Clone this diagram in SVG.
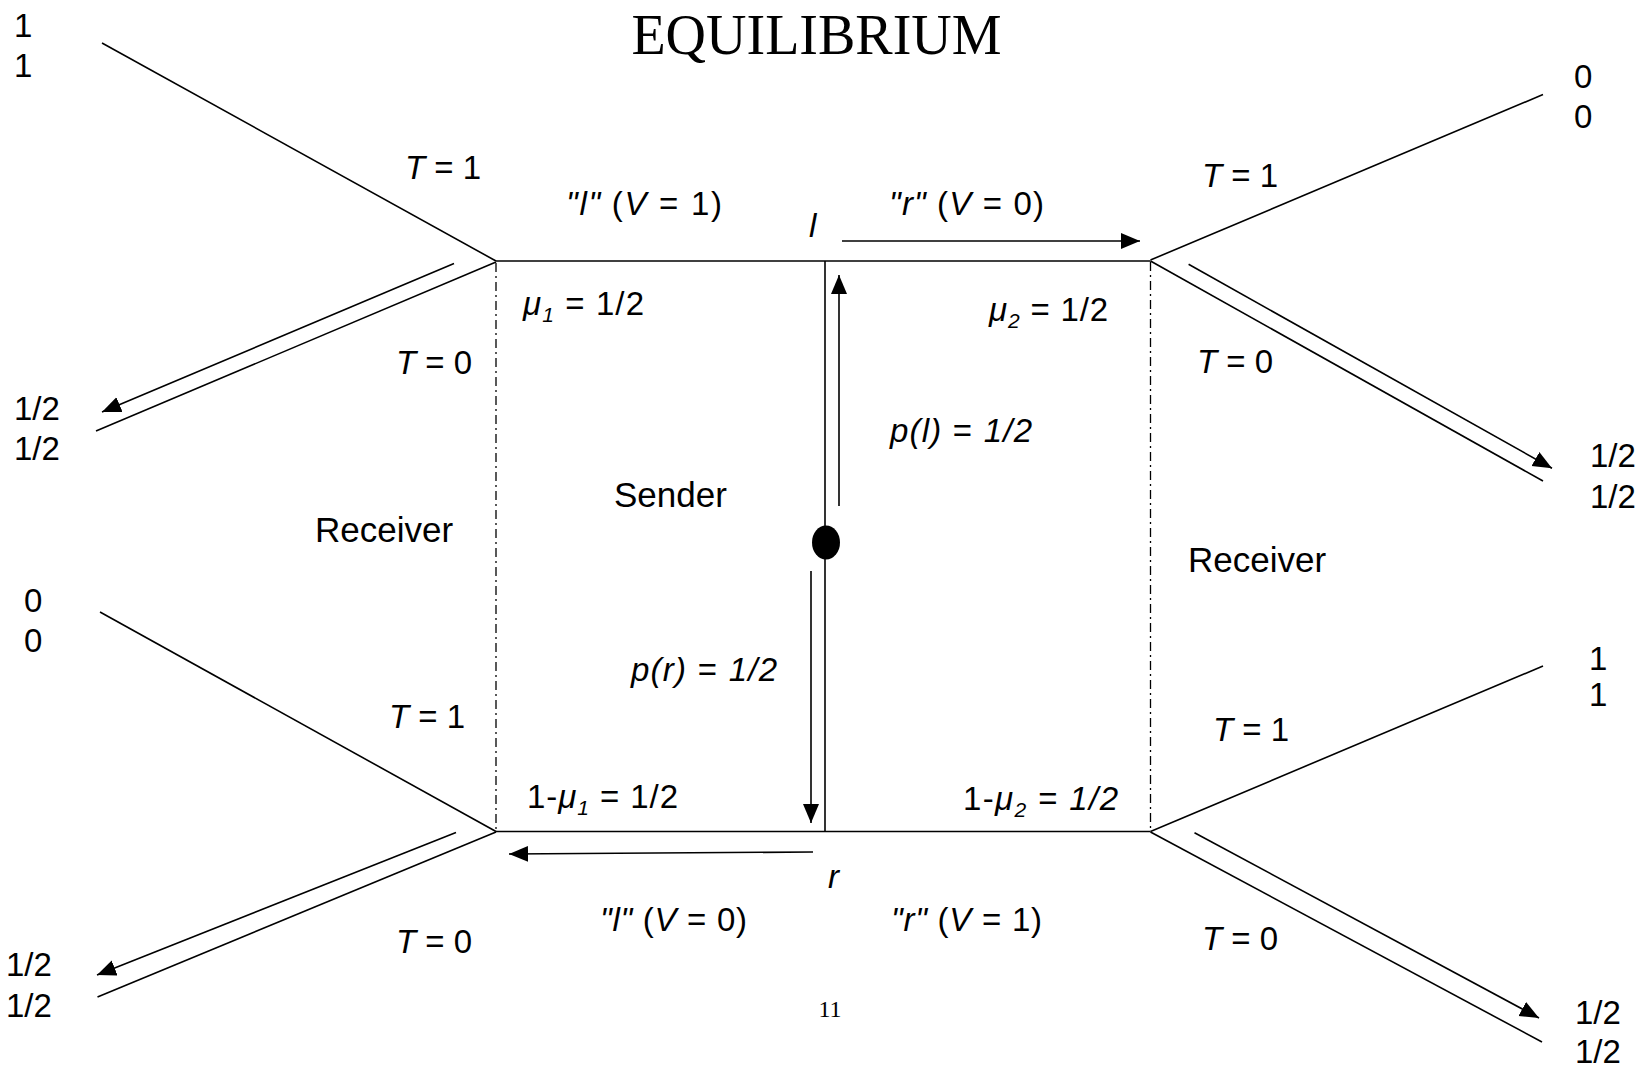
<svg xmlns="http://www.w3.org/2000/svg" width="1642" height="1069" viewBox="0 0 1642 1069">
<style>
text{font-family:"Liberation Sans",Arial,sans-serif;font-size:33px;fill:#000}
.i{font-style:italic}
.sub{font-size:21px;font-style:italic}
.big{font-size:35px}
.ser{font-family:"Liberation Serif","Times New Roman",serif}
.ln{stroke:#000;stroke-width:1.6;fill:none}
.dd{stroke:#000;stroke-width:1.3;fill:none;stroke-dasharray:9 4 2 4}
</style>
<defs>
<marker id="ah" markerUnits="userSpaceOnUse" markerWidth="22" markerHeight="18" refX="19" refY="8" orient="auto">
<path d="M0,0 L19,8 L0,16 Z" fill="#000"/>
</marker>
</defs>
<rect width="1642" height="1069" fill="#fff"/>
<text class="ser" x="816.5" y="54" text-anchor="middle" style="font-size:56px">EQUILIBRIUM</text>

<g id="edges">
<line class="ln" x1="102" y1="43" x2="496" y2="261"/>
<line class="ln" x1="496" y1="262" x2="96" y2="431"/>
<line class="ln" x1="100" y1="612" x2="496" y2="831.5"/>
<line class="ln" x1="496" y1="832" x2="97.5" y2="997"/>
<line class="ln" x1="1150.5" y1="260" x2="1543" y2="94.5"/>
<line class="ln" x1="1150.5" y1="261" x2="1543" y2="481"/>
<line class="ln" x1="1150.5" y1="831.5" x2="1543" y2="666"/>
<line class="ln" x1="1150.5" y1="832" x2="1542" y2="1042"/>
<line class="ln" x1="496" y1="261" x2="1150.5" y2="261"/>
<line class="ln" x1="496" y1="831.5" x2="1150.5" y2="831.5"/>
<line class="ln" x1="825" y1="261" x2="825" y2="831.5"/>
<line class="dd" x1="496" y1="263" x2="496" y2="830"/>
<line class="dd" x1="1150.5" y1="262" x2="1150.5" y2="830"/>
<line class="ln" x1="454" y1="263.5" x2="102" y2="412" marker-end="url(#ah)"/>
<line class="ln" x1="456" y1="832.5" x2="97" y2="975" marker-end="url(#ah)"/>
<line class="ln" x1="1188.6" y1="264.3" x2="1552" y2="468.3" marker-end="url(#ah)"/>
<line class="ln" x1="1194.5" y1="832.7" x2="1539" y2="1018" marker-end="url(#ah)"/>
<line class="ln" x1="842" y1="241" x2="1140" y2="241" marker-end="url(#ah)"/>
<line class="ln" x1="839" y1="506" x2="839" y2="275" marker-end="url(#ah)"/>
<line class="ln" x1="811" y1="571" x2="811" y2="823" marker-end="url(#ah)"/>
<line class="ln" x1="813" y1="852" x2="509" y2="854" marker-end="url(#ah)"/>
</g>

<g id="sender-node">
<ellipse cx="826" cy="542.5" rx="14" ry="17" fill="#000"/>
<text class="big" x="614" y="507">Sender</text>
</g>

<g id="receiver-left">
<text class="big" x="315" y="542">Receiver</text>
</g>
<g id="receiver-right">
<text class="big" x="1188" y="571.5">Receiver</text>
</g>

<g id="labels">
<text x="405" y="179"><tspan class="i">T</tspan> = 1</text>
<text x="396" y="374"><tspan class="i">T</tspan> = 0</text>
<text x="389" y="728"><tspan class="i">T</tspan> = 1</text>
<text x="396" y="953"><tspan class="i">T</tspan> = 0</text>
<text x="1202" y="187"><tspan class="i">T</tspan> = 1</text>
<text x="1197" y="373"><tspan class="i">T</tspan> = 0</text>
<text x="1213" y="741"><tspan class="i">T</tspan> = 1</text>
<text x="1202" y="950"><tspan class="i">T</tspan> = 0</text>

<text x="566" y="215" textLength="156" lengthAdjust="spacing"><tspan class="i">"l"</tspan><tspan dx="10">(</tspan><tspan class="i">V</tspan> = 1)</text>
<text class="i" x="809" y="237">l</text>
<text x="889" y="215" textLength="155" lengthAdjust="spacing"><tspan class="i">"r"</tspan><tspan dx="10">(</tspan><tspan class="i">V</tspan> = 0)</text>

<text x="523" y="315" textLength="121" lengthAdjust="spacing"><tspan class="i">μ</tspan><tspan class="sub" dy="7">1</tspan><tspan dy="-7"> = 1/2</tspan></text>
<text x="989" y="321" textLength="119" lengthAdjust="spacing"><tspan class="i">μ</tspan><tspan class="sub" dy="7">2</tspan><tspan dy="-7"> = 1/2</tspan></text>
<text x="890" y="442" textLength="142" lengthAdjust="spacing"><tspan class="i">p(l)</tspan> = <tspan class="i">1/2</tspan></text>
<text x="631" y="681" textLength="146" lengthAdjust="spacing"><tspan class="i">p(r)</tspan> = <tspan class="i">1/2</tspan></text>
<text x="527" y="808" textLength="151" lengthAdjust="spacing">1-<tspan class="i">μ</tspan><tspan class="sub" dy="7">1</tspan><tspan dy="-7"> = 1/2</tspan></text>
<text x="963" y="810" textLength="155" lengthAdjust="spacing">1-<tspan class="i">μ</tspan><tspan class="sub" dy="7">2</tspan><tspan dy="-7"> = <tspan class="i">1/2</tspan></tspan></text>
<text class="i" x="828" y="888">r</text>
<text x="600" y="931" textLength="147" lengthAdjust="spacing"><tspan class="i">"l"</tspan> (<tspan class="i">V</tspan> = 0)</text>
<text x="891" y="931" textLength="151" lengthAdjust="spacing"><tspan class="i">"r"</tspan> (<tspan class="i">V</tspan> = 1)</text>
</g>

<g id="payoffs">
<text x="14" y="37">1</text>
<text x="14" y="77">1</text>
<text x="14" y="420">1/2</text>
<text x="14" y="460">1/2</text>
<text x="24" y="612">0</text>
<text x="24" y="652">0</text>
<text x="6" y="976">1/2</text>
<text x="6" y="1017">1/2</text>
<text x="1574" y="88">0</text>
<text x="1574" y="128">0</text>
<text x="1590" y="467">1/2</text>
<text x="1590" y="508">1/2</text>
<text x="1589" y="670">1</text>
<text x="1589" y="706">1</text>
<text x="1575" y="1024">1/2</text>
<text x="1575" y="1063">1/2</text>
</g>

<text class="ser" x="830" y="1017" text-anchor="middle" style="font-size:24px">11</text>
</svg>
